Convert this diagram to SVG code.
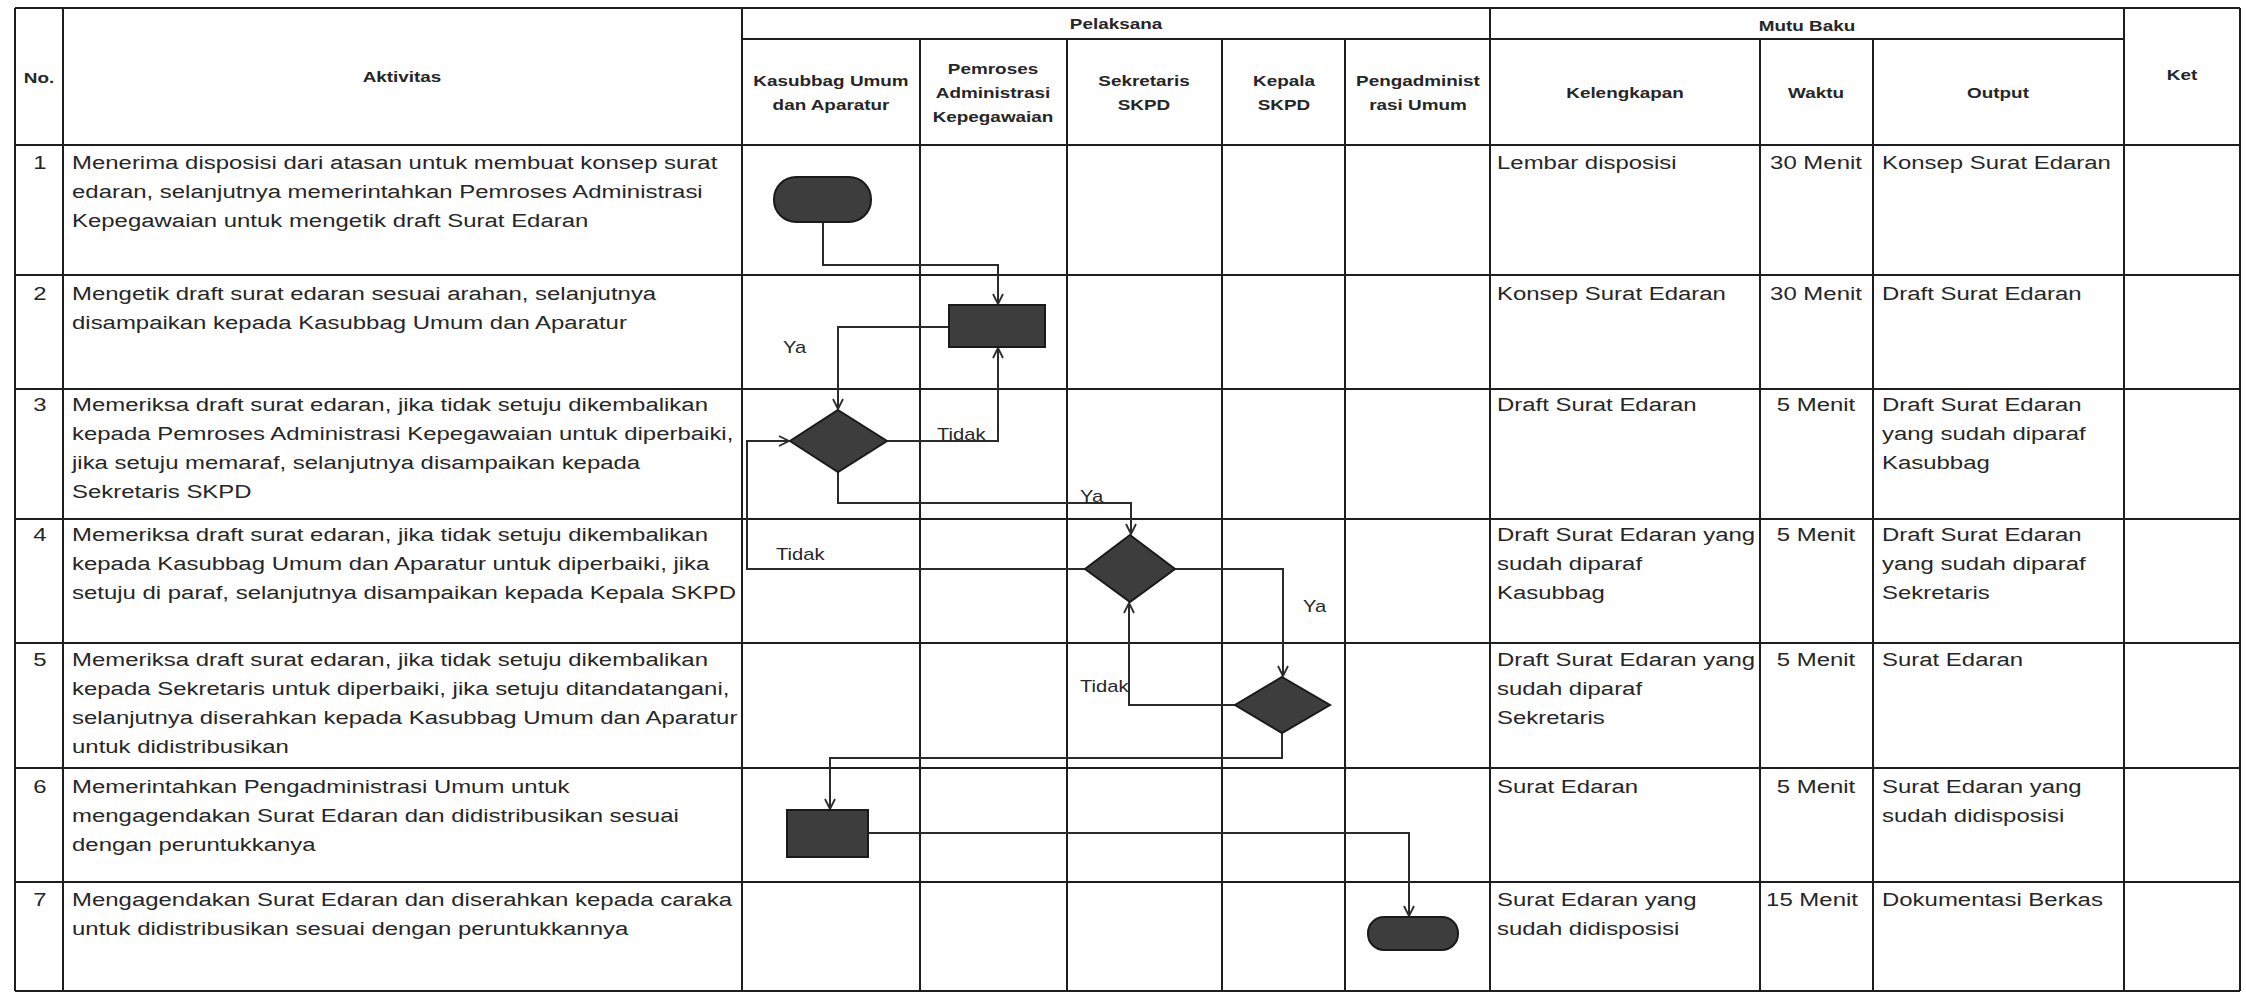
<svg xmlns="http://www.w3.org/2000/svg" width="2246" height="994" viewBox="0 0 2246 994">
  <style>
    .t{font-family:"Liberation Sans",Arial,sans-serif;font-size:19px;fill:#262626}
    .h{font-family:"Liberation Sans",Arial,sans-serif;font-size:15px;font-weight:bold;fill:#262626;text-anchor:middle}
    .lbl{font-family:"Liberation Sans",Arial,sans-serif;font-size:16px;fill:#262626}
    .mid{text-anchor:middle}
    .grid line{stroke:#1e1e1e;stroke-width:2}
    .conn path{fill:none;stroke:#2b2b2b;stroke-width:2}
    .shape{fill:#3d3d3d;stroke:#1a1a1a;stroke-width:2}
  </style>
  <defs>
    <marker id="arr" viewBox="0 0 12 12" refX="11" refY="6" markerWidth="12" markerHeight="12" orient="auto" markerUnits="userSpaceOnUse">
      <path d="M1,1 L11,6 L1,11" fill="none" stroke="#2b2b2b" stroke-width="1.8"/>
    </marker>
  </defs>
  <rect width="2246" height="994" fill="#ffffff"/>

  <!-- table grid -->
  <g class="grid">
    <line x1="15" y1="8" x2="2240" y2="8"/>
    <line x1="742" y1="39" x2="2124" y2="39"/>
    <line x1="15" y1="145" x2="2240" y2="145"/>
    <line x1="15" y1="275" x2="2240" y2="275"/>
    <line x1="15" y1="389" x2="2240" y2="389"/>
    <line x1="15" y1="519" x2="2240" y2="519"/>
    <line x1="15" y1="643" x2="2240" y2="643"/>
    <line x1="15" y1="768" x2="2240" y2="768"/>
    <line x1="15" y1="882" x2="2240" y2="882"/>
    <line x1="15" y1="991" x2="2240" y2="991"/>
    <line x1="15" y1="8" x2="15" y2="991"/>
    <line x1="63" y1="8" x2="63" y2="991"/>
    <line x1="742" y1="8" x2="742" y2="991"/>
    <line x1="920" y1="39" x2="920" y2="991"/>
    <line x1="1067" y1="39" x2="1067" y2="991"/>
    <line x1="1222" y1="39" x2="1222" y2="991"/>
    <line x1="1345" y1="39" x2="1345" y2="991"/>
    <line x1="1490" y1="8" x2="1490" y2="991"/>
    <line x1="1760" y1="39" x2="1760" y2="991"/>
    <line x1="1873" y1="39" x2="1873" y2="991"/>
    <line x1="2124" y1="8" x2="2124" y2="991"/>
    <line x1="2240" y1="8" x2="2240" y2="991"/>
  </g>

  <!-- column headers -->
  <g id="headers">
    <text class="h" transform="translate(39,83) scale(1.26,1)">No.</text>
    <text class="h" transform="translate(402,82) scale(1.26,1)">Aktivitas</text>
    <text class="h" transform="translate(1116,29) scale(1.26,1)">Pelaksana</text>
    <text class="h" transform="translate(1807,31) scale(1.26,1)">Mutu Baku</text>
    <text class="h" transform="translate(831,86) scale(1.26,1)"><tspan x="0">Kasubbag Umum</tspan><tspan x="0" dy="24">dan Aparatur</tspan></text>
    <text class="h" transform="translate(993,74) scale(1.26,1)"><tspan x="0">Pemroses</tspan><tspan x="0" dy="24">Administrasi</tspan><tspan x="0" dy="24">Kepegawaian</tspan></text>
    <text class="h" transform="translate(1144,86) scale(1.26,1)"><tspan x="0">Sekretaris</tspan><tspan x="0" dy="24">SKPD</tspan></text>
    <text class="h" transform="translate(1284,86) scale(1.26,1)"><tspan x="0">Kepala</tspan><tspan x="0" dy="24">SKPD</tspan></text>
    <text class="h" transform="translate(1418,86) scale(1.26,1)"><tspan x="0">Pengadminist</tspan><tspan x="0" dy="24">rasi Umum</tspan></text>
    <text class="h" transform="translate(1625,98) scale(1.26,1)">Kelengkapan</text>
    <text class="h" transform="translate(1816,98) scale(1.26,1)">Waktu</text>
    <text class="h" transform="translate(1998,98) scale(1.26,1)">Output</text>
    <text class="h" transform="translate(2182,80) scale(1.26,1)">Ket</text>
  </g>

  <!-- row numbers -->
  <g id="numbers">
    <text class="t mid" transform="translate(40,169) scale(1.26,1)">1</text>
    <text class="t mid" transform="translate(40,300) scale(1.26,1)">2</text>
    <text class="t mid" transform="translate(40,411) scale(1.26,1)">3</text>
    <text class="t mid" transform="translate(40,541) scale(1.26,1)">4</text>
    <text class="t mid" transform="translate(40,666) scale(1.26,1)">5</text>
    <text class="t mid" transform="translate(40,793) scale(1.26,1)">6</text>
    <text class="t mid" transform="translate(40,906) scale(1.26,1)">7</text>
  </g>

  <!-- activity descriptions -->
  <g id="aktivitas">
    <text class="t" transform="translate(72,169) scale(1.26,1)"><tspan x="0">Menerima disposisi dari atasan untuk membuat konsep surat</tspan><tspan x="0" dy="29">edaran, selanjutnya memerintahkan Pemroses Administrasi</tspan><tspan x="0" dy="29">Kepegawaian untuk mengetik draft Surat Edaran</tspan></text>
    <text class="t" transform="translate(72,300) scale(1.26,1)"><tspan x="0">Mengetik draft surat edaran sesuai arahan, selanjutnya</tspan><tspan x="0" dy="29">disampaikan kepada Kasubbag Umum dan Aparatur</tspan></text>
    <text class="t" transform="translate(72,411) scale(1.26,1)"><tspan x="0">Memeriksa draft surat edaran, jika tidak setuju dikembalikan</tspan><tspan x="0" dy="29">kepada Pemroses Administrasi Kepegawaian untuk diperbaiki,</tspan><tspan x="0" dy="29">jika setuju memaraf, selanjutnya disampaikan kepada</tspan><tspan x="0" dy="29">Sekretaris SKPD</tspan></text>
    <text class="t" transform="translate(72,541) scale(1.26,1)"><tspan x="0">Memeriksa draft surat edaran, jika tidak setuju dikembalikan</tspan><tspan x="0" dy="29">kepada Kasubbag Umum dan Aparatur untuk diperbaiki, jika</tspan><tspan x="0" dy="29">setuju di paraf, selanjutnya disampaikan kepada Kepala SKPD</tspan></text>
    <text class="t" transform="translate(72,666) scale(1.26,1)"><tspan x="0">Memeriksa draft surat edaran, jika tidak setuju dikembalikan</tspan><tspan x="0" dy="29">kepada Sekretaris untuk diperbaiki, jika setuju ditandatangani,</tspan><tspan x="0" dy="29">selanjutnya diserahkan kepada Kasubbag Umum dan Aparatur</tspan><tspan x="0" dy="29">untuk didistribusikan</tspan></text>
    <text class="t" transform="translate(72,793) scale(1.26,1)"><tspan x="0">Memerintahkan Pengadministrasi Umum untuk</tspan><tspan x="0" dy="29">mengagendakan Surat Edaran dan  didistribusikan sesuai</tspan><tspan x="0" dy="29">dengan peruntukkanya</tspan></text>
    <text class="t" transform="translate(72,906) scale(1.26,1)"><tspan x="0">Mengagendakan Surat Edaran dan  diserahkan kepada caraka</tspan><tspan x="0" dy="29">untuk didistribusikan sesuai dengan peruntukkannya</tspan></text>
  </g>

  <!-- Kelengkapan -->
  <g id="kelengkapan">
    <text class="t" transform="translate(1497,169) scale(1.26,1)">Lembar disposisi</text>
    <text class="t" transform="translate(1497,300) scale(1.26,1)">Konsep Surat Edaran</text>
    <text class="t" transform="translate(1497,411) scale(1.26,1)">Draft Surat Edaran</text>
    <text class="t" transform="translate(1497,541) scale(1.26,1)"><tspan x="0">Draft Surat Edaran yang</tspan><tspan x="0" dy="29">sudah diparaf</tspan><tspan x="0" dy="29">Kasubbag</tspan></text>
    <text class="t" transform="translate(1497,666) scale(1.26,1)"><tspan x="0">Draft Surat Edaran yang</tspan><tspan x="0" dy="29">sudah diparaf</tspan><tspan x="0" dy="29">Sekretaris</tspan></text>
    <text class="t" transform="translate(1497,793) scale(1.26,1)">Surat Edaran</text>
    <text class="t" transform="translate(1497,906) scale(1.26,1)"><tspan x="0">Surat Edaran yang</tspan><tspan x="0" dy="29">sudah didisposisi</tspan></text>
  </g>

  <!-- Waktu -->
  <g id="waktu">
    <text class="t mid" transform="translate(1816,169) scale(1.26,1)">30 Menit</text>
    <text class="t mid" transform="translate(1816,300) scale(1.26,1)">30 Menit</text>
    <text class="t mid" transform="translate(1816,411) scale(1.26,1)">5 Menit</text>
    <text class="t mid" transform="translate(1816,541) scale(1.26,1)">5 Menit</text>
    <text class="t mid" transform="translate(1816,666) scale(1.26,1)">5 Menit</text>
    <text class="t mid" transform="translate(1816,793) scale(1.26,1)">5 Menit</text>
    <text class="t mid" transform="translate(1812,906) scale(1.26,1)">15 Menit</text>
  </g>

  <!-- Output -->
  <g id="output">
    <text class="t" transform="translate(1882,169) scale(1.26,1)">Konsep Surat Edaran</text>
    <text class="t" transform="translate(1882,300) scale(1.26,1)">Draft Surat Edaran</text>
    <text class="t" transform="translate(1882,411) scale(1.26,1)"><tspan x="0">Draft Surat Edaran</tspan><tspan x="0" dy="29">yang sudah diparaf</tspan><tspan x="0" dy="29">Kasubbag</tspan></text>
    <text class="t" transform="translate(1882,541) scale(1.26,1)"><tspan x="0">Draft Surat Edaran</tspan><tspan x="0" dy="29">yang sudah diparaf</tspan><tspan x="0" dy="29">Sekretaris</tspan></text>
    <text class="t" transform="translate(1882,666) scale(1.26,1)">Surat Edaran</text>
    <text class="t" transform="translate(1882,793) scale(1.26,1)"><tspan x="0">Surat Edaran yang</tspan><tspan x="0" dy="29">sudah didisposisi</tspan></text>
    <text class="t" transform="translate(1882,906) scale(1.26,1)">Dokumentasi Berkas</text>
  </g>

  <!-- connectors -->
  <g id="connectors" class="conn">
    <path d="M823,222 V265 H998 V304" marker-end="url(#arr)"/>
    <path d="M949,327 H838 V409" marker-end="url(#arr)"/>
    <path d="M887,441 H998 V348" marker-end="url(#arr)"/>
    <path d="M838,472 V503 H1131 V534" marker-end="url(#arr)"/>
    <path d="M1085,569 H747 V441 H789" marker-end="url(#arr)"/>
    <path d="M1175,569 H1283 V676" marker-end="url(#arr)"/>
    <path d="M1235,705 H1129 V603" marker-end="url(#arr)"/>
    <path d="M1282,733 V758 H830 V809" marker-end="url(#arr)"/>
    <path d="M868,833 H1409 V916" marker-end="url(#arr)"/>
  </g>

  <!-- connector labels -->
  <g id="labels">
    <text class="lbl" transform="translate(783,353) scale(1.26,1)">Ya</text>
    <text class="lbl" transform="translate(937,440) scale(1.26,1)">Tidak</text>
    <text class="lbl" transform="translate(1080,502) scale(1.26,1)">Ya</text>
    <text class="lbl" transform="translate(776,560) scale(1.26,1)">Tidak</text>
    <text class="lbl" transform="translate(1303,612) scale(1.26,1)">Ya</text>
    <text class="lbl" transform="translate(1080,692) scale(1.26,1)">Tidak</text>
  </g>

  <!-- flow nodes -->
  <g id="start"><rect class="shape" x="774" y="177" width="97" height="45" rx="22" ry="22"/></g>
  <g id="ketik-draft"><rect class="shape" x="949" y="305" width="96" height="42"/></g>
  <g id="periksa-kasubbag"><polygon class="shape" points="838,410 887,441 838,472 790,441"/></g>
  <g id="periksa-sekretaris"><polygon class="shape" points="1130,535 1175,569 1130,602 1085,569"/></g>
  <g id="periksa-kepala"><polygon class="shape" points="1282,677 1330,705 1282,733 1235,705"/></g>
  <g id="perintah-agenda"><rect class="shape" x="787" y="810" width="81" height="47"/></g>
  <g id="end"><rect class="shape" x="1368" y="917" width="90" height="33" rx="16" ry="16"/></g>
</svg>
